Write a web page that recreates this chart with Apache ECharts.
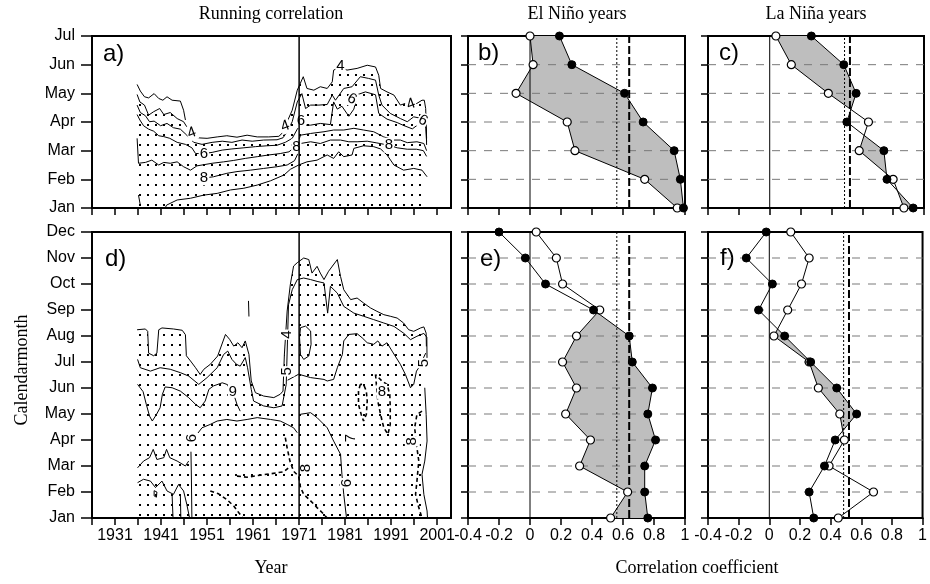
<!DOCTYPE html>
<html><head><meta charset="utf-8">
<script src="https://cdn.jsdelivr.net/npm/echarts@6/dist/echarts.min.js"></script>
<style>html,body{margin:0;padding:0;background:#fff}#c{width:930px;height:584px}</style>
</head><body><div id="c"></div>
<script>
// ---------- axes / categories ----------
const monthNames=['Jan','Feb','Mar','Apr','May','Jun','Jul','Aug','Sep','Oct','Nov','Dec'];
const topMonths=[1,2,3,4,5,6,7];
const bottomMonths=[1,2,3,4,5,6,7,8,9,10,11,12];
const yearTicks=[1926,1931,1936,1941,1946,1951,1956,1961,1966,1971,1976,1981,1986,1991,1996,2001];
const yearLabels=[1931,1941,1951,1961,1971,1981,1991,2001];
const corrTicks=[-0.4,-0.2,0,0.2,0.4,0.6,0.8,1];
const climateShiftYear=1971;

// ---------- correlation profiles (Jan..Jul / Jan..Dec) ----------
const elNinoTopFilled=[0.99,0.97,0.93,0.73,0.61,0.27,0.19];
const elNinoTopOpen=[0.95,0.74,0.29,0.24,-0.09,0.02,0.00];
const laNinaTopFilled=[0.93,0.76,0.74,0.50,0.56,0.48,0.27];
const laNinaTopOpen=[0.87,0.80,0.58,0.64,0.38,0.14,0.04];
const elNinoBotFilled=[0.76,0.74,0.74,0.81,0.76,0.79,0.66,0.64,0.41,0.10,-0.03,-0.20];
const elNinoBotOpen=[0.52,0.63,0.32,0.39,0.23,0.30,0.21,0.30,0.45,0.21,0.17,0.04];
const laNinaBotFilled=[0.29,0.26,0.36,0.43,0.57,0.44,0.27,0.10,-0.07,0.02,-0.15,-0.02];
const laNinaBotOpen=[0.45,0.68,0.39,0.49,0.46,0.32,0.26,0.03,0.12,0.21,0.26,0.14];
const elNinoSig=[0.56,0.64];
const laNinaSig=[0.485,0.52];

// ---------- running correlation contours, panel a (year, month) ----------
const runA_c30=[[1935.8,5.31],[1936.5,5.08],[1937.4,4.88],[1938.3,4.84],[1939.5,4.99],[1940.5,4.82],[1941.4,4.76],[1942.3,4.88],[1943.4,4.76],[1945.2,4.73],[1945.9,4.41],[1946.3,4.07]];
const runA_c40=[[1935.8,4.96],[1936.4,4.70],[1937.4,4.59],[1938.3,4.24],[1939.4,4.36],[1940.7,4.47],[1941.6,4.26],[1943.0,4.33],[1944.5,4.12],[1945.9,4.01],[1947.2,3.68],[1948.8,3.45],[1951.0,3.43],[1953.2,3.48],[1955.3,3.52],[1957.5,3.47],[1959.7,3.54],[1961.9,3.48],[1964.4,3.48],[1966.6,3.50],[1967.5,3.64],[1968.4,4.01],[1969.5,4.41],[1970.6,5.11],[1971.9,5.58],[1972.7,5.17],[1974.2,5.11],[1975.6,5.23],[1977.1,5.17],[1978.2,5.40],[1978.5,5.81],[1980.0,5.92],[1981.4,5.81],[1983.6,5.87],[1985.8,5.98],[1987.6,5.92],[1988.3,5.63],[1988.7,5.17],[1990.1,5.05],[1991.6,4.94],[1993.0,4.59],[1994.1,4.65],[1995.6,4.59],[1996.6,4.65],[1997.7,4.76],[1998.2,4.76],[1998.5,4.47],[1998.7,3.43]];
const runA_c50=[[1935.8,4.59],[1936.5,4.33],[1937.6,4.22],[1938.5,4.01],[1939.5,4.03],[1940.9,3.87],[1942.3,3.95],[1943.7,3.80],[1945.2,3.75],[1946.6,3.54],[1948.1,3.29],[1949.9,3.22],[1952.1,3.29],[1954.3,3.33],[1956.4,3.29],[1958.6,3.37],[1960.8,3.33],[1963.3,3.37],[1966.2,3.38],[1967.5,3.45],[1968.4,3.66],[1969.5,4.01],[1970.6,4.70],[1971.6,4.99],[1972.4,4.47],[1973.5,4.59],[1975.3,4.59],[1977.1,4.61],[1978.2,4.94],[1978.9,4.76],[1980.7,5.17],[1982.5,5.23],[1984.3,5.58],[1986.1,5.52],[1987.6,5.46],[1988.3,4.94],[1989.0,4.59],[1990.8,4.30],[1993.0,4.12],[1994.5,4.01],[1995.9,4.18],[1997.7,4.12],[1998.5,4.01],[1998.7,3.31]];
const runA_c60=[[1935.8,4.26],[1936.4,4.07],[1937.2,3.87],[1938.3,3.75],[1939.4,3.68],[1940.5,3.52],[1941.6,3.49],[1942.9,3.43],[1944.5,3.29],[1946.3,3.22],[1947.7,3.10],[1948.5,2.90],[1950.3,2.90],[1952.1,2.94],[1954.3,3.02],[1956.4,3.06],[1959.0,3.10],[1961.5,3.14],[1964.0,3.17],[1966.2,3.19],[1968.0,3.29],[1969.5,3.43],[1970.6,3.75],[1971.3,3.89],[1973.5,3.89],[1975.6,3.95],[1977.8,3.91],[1978.5,4.70],[1979.3,4.45],[1980.3,4.55],[1981.8,4.20],[1982.9,4.45],[1983.6,4.95],[1985.4,5.05],[1987.6,4.95],[1988.3,4.30],[1990.1,4.10],[1992.3,3.98],[1993.7,3.88],[1995.6,3.76],[1996.6,3.88],[1998.0,3.98],[1998.6,3.78],[1998.7,3.20]];
const runA_c70=[[1935.8,3.43],[1936.1,2.56],[1937.6,2.59],[1939.0,2.67],[1940.5,2.50],[1941.6,2.59],[1943.0,2.56],[1944.5,2.61],[1945.9,2.44],[1947.4,2.32],[1948.8,2.47],[1952.1,2.56],[1954.6,2.61],[1956.8,2.66],[1959.3,2.73],[1961.9,2.79],[1964.4,2.85],[1966.9,2.90],[1968.8,2.96],[1970.6,3.20],[1971.3,3.54],[1973.5,3.60],[1976.4,3.66],[1978.5,3.72],[1980.7,3.72],[1982.9,3.78],[1985.0,3.72],[1987.2,3.66],[1989.4,3.48],[1991.6,3.37],[1993.0,3.37],[1994.5,3.28],[1996.6,3.31],[1998.1,3.25],[1998.7,3.00]];
const runA_c80=[[1951.5,2.07],[1952.4,2.09],[1955.3,2.21],[1957.5,2.27],[1960.4,2.32],[1963.3,2.38],[1966.2,2.44],[1968.4,2.50],[1970.0,2.65],[1970.6,2.85],[1971.3,3.25],[1973.5,3.31],[1975.6,3.25],[1977.8,3.37],[1980.0,3.37],[1981.8,3.31],[1983.6,3.31],[1985.8,3.33],[1987.9,3.27],[1990.5,3.19],[1992.3,3.10],[1994.5,3.05],[1996.5,3.05],[1998.0,3.00],[1998.7,2.80]];
const runA_c90=[[1941.9,1.00],[1942.2,1.10],[1944.5,1.28],[1947.4,1.34],[1950.3,1.45],[1953.2,1.51],[1956.1,1.63],[1959.0,1.69],[1961.9,1.80],[1964.8,1.95],[1967.7,2.15],[1969.1,2.35],[1970.9,2.50],[1972.7,2.61],[1974.9,2.67],[1977.1,2.85],[1978.5,2.73],[1979.6,2.96],[1980.7,2.79],[1982.5,2.85],[1982.9,3.08],[1985.0,3.17],[1987.2,3.14],[1988.7,3.06],[1990.1,2.85],[1991.6,2.50],[1993.7,2.32],[1995.9,2.38],[1997.7,2.32],[1998.8,2.09]];
const runA_c90b=[[1936.1,1.45],[1936.5,1.10]];
const runALabels=[[1947.7,3.62,'4'],[1950.3,2.90,'6'],[1950.3,2.05,'8'],[1968.0,3.85,'4'],[1971.4,4.05,'6'],[1970.4,3.15,'8'],[1980.0,5.95,'4'],[1982.5,4.80,'6'],[1995.3,4.62,'4'],[1997.9,4.05,'6'],[1990.5,3.19,'8']];

// ---------- running correlation contours, panel d (year, month) ----------
const runD_c40=[[1935.8,8.24],[1937.6,8.27],[1938.1,8.18],[1938.3,7.34],[1939.4,7.24],[1940.1,7.34],[1940.5,8.24],[1941.2,8.31],[1943.7,8.27],[1945.6,8.22],[1946.3,8.05],[1946.5,7.24],[1947.4,7.04],[1948.5,6.78],[1949.5,6.52],[1950.3,6.72],[1951.7,6.91],[1953.3,7.23],[1955.0,8.06],[1955.9,7.87],[1956.8,7.61],[1957.7,7.74],[1958.6,7.55],[1959.3,7.81],[1960.1,7.29],[1960.6,6.27],[1961.5,5.82],[1963.3,5.69],[1965.5,5.63],[1966.9,5.76],[1967.5,5.88],[1967.8,7.29],[1968.4,8.96],[1969.1,9.99],[1969.8,10.69],[1970.6,10.82],[1972.0,11.00],[1973.1,10.94],[1973.8,10.42],[1974.9,10.68],[1975.6,10.42],[1976.4,10.17],[1977.4,10.49],[1979.3,10.94],[1980.0,10.29],[1980.7,9.78],[1982.2,9.40],[1983.6,9.46],[1985.0,9.27],[1986.5,9.08],[1987.9,8.95],[1989.4,8.82],[1990.8,8.76],[1992.3,8.69],[1993.7,8.50],[1994.8,8.24],[1995.9,8.18],[1997.4,8.31],[1998.1,8.35],[1998.6,8.11],[1998.65,7.60]];
const runD_c50=[[1935.9,7.10],[1936.5,6.78],[1938.7,6.65],[1940.8,6.78],[1943.0,6.72],[1945.2,6.59],[1947.0,6.46],[1949.2,6.14],[1951.0,6.40],[1953.2,6.78],[1954.6,7.29],[1955.5,7.42],[1956.4,7.10],[1957.4,6.91],[1958.2,6.84],[1959.3,7.17],[1959.8,6.78],[1960.6,5.95],[1961.1,5.50],[1963.3,5.31],[1965.5,5.24],[1967.3,5.31],[1968.2,6.14],[1968.7,9.20],[1969.5,9.78],[1970.6,10.17],[1972.0,10.23],[1973.5,10.17],[1974.9,10.10],[1976.4,10.04],[1977.2,8.88],[1977.8,9.91],[1979.3,9.65],[1980.7,9.14],[1982.9,8.88],[1985.0,8.76],[1987.2,8.63],[1989.4,8.50],[1991.6,8.37],[1993.7,8.11],[1995.2,7.86],[1996.6,7.99],[1998.1,8.10],[1998.75,7.95],[1998.8,6.90]];
const runD_c50b=[[1971.3,8.32],[1972.4,8.38],[1973.5,8.19],[1973.6,7.68],[1973.1,7.23],[1972.0,7.10],[1971.3,7.29],[1971.1,7.94],[1971.3,8.32]];
const runD_c60r=[[1968.5,6.30],[1970.9,6.53],[1973.5,6.40],[1976.4,6.33],[1977.1,6.27],[1978.5,6.33],[1979.3,6.78],[1980.4,7.29],[1980.7,7.81],[1981.8,8.06],[1983.6,8.09],[1984.7,7.93],[1985.8,7.74],[1987.2,7.68],[1988.1,7.81],[1989.0,7.61],[1990.1,7.74],[1991.2,7.42],[1993.0,6.91],[1994.1,6.52],[1995.2,6.01],[1995.9,6.14],[1996.5,6.65],[1997.0,6.78],[1997.7,7.04],[1998.5,7.34]];
const runD_c60l=[[1935.9,6.14],[1937.1,5.86],[1937.8,5.37],[1938.5,4.92],[1939.1,4.73],[1940.0,4.98],[1940.8,5.24],[1941.3,5.76],[1941.9,6.04],[1943.4,6.01],[1945.2,5.88],[1947.0,5.63],[1948.5,5.37],[1949.5,5.24],[1950.6,5.50],[1951.4,5.95],[1952.4,6.08],[1954.3,6.20],[1955.3,6.14],[1956.8,5.76],[1957.5,5.37],[1958.2,5.11]];
const runD_c70l=[[1947.7,3.96],[1949.9,4.47],[1951.7,4.60],[1953.2,4.73],[1955.3,4.79],[1957.5,4.73],[1959.7,4.79],[1961.9,4.86],[1964.8,4.79],[1966.9,4.73],[1968.4,4.60],[1969.8,4.47],[1970.6,4.28]];
const runD_c70v=[[1947.5,3.55],[1947.6,2.50],[1947.7,1.00]];
const runD_c70r=[[1971.3,4.99],[1973.5,5.05],[1974.9,4.86],[1977.1,4.47],[1978.5,3.96],[1980.0,3.45],[1980.3,2.68],[1980.7,1.91],[1981.3,1.00]];
const runD_c80a=[[1935.9,2.93],[1937.2,3.19],[1938.5,3.32],[1939.3,3.64],[1940.1,3.25],[1941.6,3.32],[1942.2,3.64],[1942.9,3.32],[1944.5,3.19],[1946.3,3.00],[1947.0,3.19]];
const runD_c80b=[[1935.9,2.36],[1937.2,2.49],[1938.7,2.42],[1939.8,2.17],[1941.2,2.42],[1942.3,2.04],[1943.7,1.91],[1944.8,2.29],[1945.9,2.04],[1946.6,1.52],[1947.2,1.00]];
const runD_c80c=[[1939.5,2.05],[1940.1,2.00],[1940.0,1.80],[1939.5,1.85],[1939.5,2.05]];
const runD_c80d=[[1943.4,1.91],[1943.6,1.00]];
const runD_c80e=[[1945.2,1.90],[1945.3,1.00]];
const runD_c30=[[1960.0,9.35],[1960.1,8.75]];
const runD_c80r=[[1998.3,6.01],[1998.6,4.99],[1998.8,3.96],[1998.3,3.19],[1997.7,2.68],[1998.1,1.91],[1998.8,1.27],[1998.9,1.00]];
const runD_dash1=[[1968.0,4.09],[1968.4,3.70],[1969.0,3.19],[1969.8,2.80],[1970.9,2.61],[1971.3,2.18],[1972.0,1.91],[1973.5,1.66],[1974.9,1.40],[1976.4,1.14],[1977.1,1.00]];
const runD_dash2=[[1957.5,2.61],[1959.7,2.57],[1962.6,2.65],[1964.8,2.70],[1967.7,2.78],[1968.8,2.95]];
const runD_dash3=[[1951.7,2.04],[1953.5,1.93],[1955.3,1.71],[1956.8,1.46],[1957.9,1.20],[1958.8,1.00]];
const runD_dash4=[[1984.3,6.14],[1983.9,5.88],[1983.9,5.37],[1984.5,4.98],[1985.0,4.73],[1985.6,4.98],[1985.8,5.50],[1985.6,5.88],[1985.0,6.14],[1984.3,6.14]];
const runD_dash5=[[1987.6,6.52],[1988.1,5.50],[1988.7,4.98],[1989.4,4.47],[1990.3,4.22],[1990.8,4.60],[1990.8,5.24],[1990.7,5.75],[1990.1,6.14],[1989.0,6.27],[1987.9,6.46],[1987.6,6.52]];
const runD_dash6=[[1997.7,5.11],[1996.6,4.98],[1996.1,4.47],[1996.5,3.83],[1997.0,3.19],[1996.6,2.42],[1996.3,1.91],[1997.0,1.40],[1997.7,1.00]];
const runDLabels=[[1968.4,8.05,'4'],[1968.4,6.64,'5'],[1956.6,5.91,'6'],[1947.7,4.07,'6'],[1972.4,2.92,'8'],[1981.4,2.34,'6'],[1982.2,4.07,'7'],[1989.0,5.87,'8'],[1995.6,3.95,'8'],[1998.1,6.96,'5']];

// ---------- styles / layout ----------
const fontSans='"Liberation Sans", Arial, sans-serif';
const fontSerif='"Liberation Serif", "Times New Roman", serif';
const angA=[20,0,0,20,0,0,0,-30,20,-30,0];
const angD=[90,90,180,90,90,90,90,0,90,90];

function dotPattern(){
  const c=document.createElement('canvas'); c.width=8; c.height=10;
  const g=c.getContext('2d'); g.fillStyle='#000'; g.fillRect(3,4,2,2); return c;
}
const stipple={image:dotPattern(),repeat:'repeat'};

const grids=[
  {left:92,top:36,width:359,height:172},
  {left:468,top:36,width:217,height:172},
  {left:708,top:36,width:216,height:172},
  {left:92,top:232,width:359,height:286},
  {left:468,top:232,width:217,height:286},
  {left:708,top:232,width:216,height:286}
].map(g=>Object.assign(g,{show:true,borderColor:'#000',borderWidth:2,backgroundColor:'transparent',containLabel:false}));

const axLine={show:true,onZero:false,lineStyle:{color:'#000',width:2}};
const tickStyle={color:'#000',width:1.5};
function yearAxis(gi,show){return {type:'value',gridIndex:gi,min:1926,max:2004,axisLine:axLine,
  axisTick:{show:true,length:7,customValues:yearTicks,lineStyle:tickStyle},
  axisLabel:{show:show,customValues:yearLabels,formatter:v=>String(v),color:'#000',fontSize:16,fontFamily:fontSans,margin:10},
  splitLine:{show:false}};}
function corrAxis(gi,show){return {type:'value',gridIndex:gi,min:corrTicks[0],max:corrTicks[corrTicks.length-1],interval:0.2,axisLine:axLine,
  axisTick:{show:true,length:7,lineStyle:tickStyle},
  axisLabel:{show:show,showMinLabel:true,showMaxLabel:true,formatter:v=>{const r=Math.round(v*10)/10;return r===0?'0':String(r);},color:'#000',fontSize:16,fontFamily:fontSans,margin:10},
  splitLine:{show:false}};}
function monthAxis(gi,months,show){return {type:'value',gridIndex:gi,min:months[0],max:months[months.length-1],interval:1,axisLine:axLine,
  axisTick:{show:true,length:show?11:7,lineStyle:tickStyle},
  axisLabel:{show:show,showMinLabel:true,showMaxLabel:true,formatter:v=>monthNames[Math.round(v)-1],color:'#000',fontSize:16,fontFamily:fontSans,margin:17},
  splitLine:{show:false}};}

const xAxes=[yearAxis(0,false),corrAxis(1,false),corrAxis(2,false),yearAxis(3,true),corrAxis(4,true),corrAxis(5,true)];
const yAxes=[monthAxis(0,topMonths,true),monthAxis(1,topMonths,false),monthAxis(2,topMonths,false),
             monthAxis(3,bottomMonths,true),monthAxis(4,bottomMonths,false),monthAxis(5,bottomMonths,false)];

const series=[];
function addLine(pi,pts,style,z){series.push({type:'line',xAxisIndex:pi,yAxisIndex:pi,data:pts,symbol:'none',lineStyle:style,z:z,silent:true,emphasis:{disabled:true},animation:false});}
function addStipple(pi,pts){series.push({type:'line',xAxisIndex:pi,yAxisIndex:pi,data:pts,symbol:'none',lineStyle:{width:0,opacity:0},areaStyle:{color:stipple,opacity:1,origin:'start'},z:1,silent:true,animation:false});}
function addLabels(pi,labels,angles){
  series.push({type:'custom',xAxisIndex:pi,yAxisIndex:pi,data:labels.map(l=>[l[0],l[1]]),z:6,silent:true,animation:false,
    renderItem:(p,api)=>{const l=labels[p.dataIndex];const c=api.coord([l[0],l[1]]);
      return {type:'text',x:c[0],y:c[1],rotation:(angles[p.dataIndex]||0)*Math.PI/180,
        style:{text:l[2],fill:'#000',font:'15px '+fontSans,align:'center',verticalAlign:'middle',textAlign:'center',textVerticalAlign:'middle',backgroundColor:'#fff',padding:[0,1]}};}});
}
function crossPolys(filled,open,months){
  const polys=[];let cur=null;
  for(let i=0;i<months.length;i++){
    const d=filled[i]-open[i];
    if(i>0){const dp=filled[i-1]-open[i-1];
      if((dp>0)!==(d>0)){const t=dp/(dp-d);
        const x=filled[i-1]+t*(filled[i]-filled[i-1]);const y=months[i-1]+t*(months[i]-months[i-1]);
        if(cur){cur.f.push([x,y]);polys.push(cur);cur=null;}else{cur={f:[[x,y]],o:[]};}}}
    if(d>0){if(!cur)cur={f:[],o:[]};cur.f.push([filled[i],months[i]]);cur.o.push([open[i],months[i]]);}
  }
  if(cur)polys.push(cur);
  return polys.map(p=>p.f.concat(p.o.slice().reverse()));
}
function corrPanel(pi,months,filled,open,sig){
  const m0=months[0],m1=months[months.length-1],x0=corrTicks[0],x1=corrTicks[corrTicks.length-1];
  const polys=crossPolys(filled,open,months);
  series.push({type:'custom',xAxisIndex:pi,yAxisIndex:pi,data:polys.map(p=>p[0]),z:1,silent:true,animation:false,
    renderItem:(p,api)=>({type:'polygon',shape:{points:polys[p.dataIndex].map(q=>api.coord(q))},style:{fill:'#bebebe'}})});
  months.slice(1,-1).forEach(m=>addLine(pi,[[x0,m],[x1,m]],{color:'#7a7a7a',width:1,type:[8,8]},2));
  addLine(pi,[[0,m0],[0,m1]],{color:'#000',width:1},3);
  addLine(pi,[[sig[0],m0],[sig[0],m1]],{color:'#000',width:1,type:[2,2]},3);
  addLine(pi,[[sig[1],m0],[sig[1],m1]],{color:'#000',width:2,type:[8,3]},3);
  series.push({type:'line',xAxisIndex:pi,yAxisIndex:pi,data:open.map((v,i)=>[v,months[i]]),symbol:'circle',symbolSize:8,
    itemStyle:{color:'#fff',borderColor:'#000',borderWidth:1.2},lineStyle:{color:'#000',width:1},z:5,clip:false,silent:true,animation:false});
  series.push({type:'line',xAxisIndex:pi,yAxisIndex:pi,data:filled.map((v,i)=>[v,months[i]]),symbol:'circle',symbolSize:8,
    itemStyle:{color:'#000',borderColor:'#000',borderWidth:1},lineStyle:{color:'#000',width:1},z:6,clip:false,silent:true,animation:false});
}

// panel a
addStipple(0,runA_c40);
[runA_c30,runA_c40,runA_c50,runA_c60,runA_c70,runA_c80,runA_c90,runA_c90b].forEach(l=>addLine(0,l,{color:'#000',width:1},3));
addLabels(0,runALabels,angA);
addLine(0,[[climateShiftYear,topMonths[0]],[climateShiftYear,topMonths[topMonths.length-1]]],{color:'#000',width:1.5},7);
// panel d
addStipple(3,runD_c40);
[runD_c30,runD_c40,runD_c50,runD_c50b,runD_c60r,runD_c60l,runD_c70l,runD_c70v,runD_c70r,runD_c80a,runD_c80b,runD_c80c,runD_c80d,runD_c80e,runD_c80r].forEach(l=>addLine(3,l,{color:'#000',width:1},3));
[runD_dash1,runD_dash2,runD_dash3,runD_dash4,runD_dash5,runD_dash6].forEach(l=>addLine(3,l,{color:'#000',width:1.6,type:[4,3]},3));
addLabels(3,runDLabels,angD);
addLine(3,[[climateShiftYear,bottomMonths[0]],[climateShiftYear,bottomMonths[bottomMonths.length-1]]],{color:'#000',width:1.5},7);
// correlation panels
corrPanel(1,topMonths,elNinoTopFilled,elNinoTopOpen,elNinoSig);
corrPanel(2,topMonths,laNinaTopFilled,laNinaTopOpen,laNinaSig);
corrPanel(4,bottomMonths,elNinoBotFilled,elNinoBotOpen,elNinoSig);
corrPanel(5,bottomMonths,laNinaBotFilled,laNinaBotOpen,laNinaSig);

function txt(x,y,text,font,rot,align){return {type:'text',x:x,y:y,rotation:rot||0,silent:true,
  style:{text:text,font:font,fill:'#000',align:align||'center',verticalAlign:'middle',textAlign:align||'center',textVerticalAlign:'middle'}};}
const serif18='18px '+fontSerif, sans24='24px '+fontSans;
const graphic=[
  txt(271,14,'Running correlation',serif18),
  txt(577,14,'El Niño years',serif18),
  txt(816,14,'La Niña years',serif18),
  txt(271,568,'Year',serif18),
  txt(697,568,'Correlation coefficient',serif18),
  txt(22,370,'Calendarmonth',serif18,Math.PI/2),
  txt(103,54,'a)',sans24,0,'left'),
  txt(478,53,'b)',sans24,0,'left'),
  txt(719,53,'c)',sans24,0,'left'),
  txt(105,259,'d)',sans24,0,'left'),
  txt(480,259,'e)',sans24,0,'left'),
  txt(720,258,'f)',sans24,0,'left')
];

const chart=echarts.init(document.getElementById('c'),null,{renderer:'canvas'});
chart.setOption({animation:false,backgroundColor:'#fff',grid:grids,xAxis:xAxes,yAxis:yAxes,series:series,graphic:graphic});
</script></body></html>
